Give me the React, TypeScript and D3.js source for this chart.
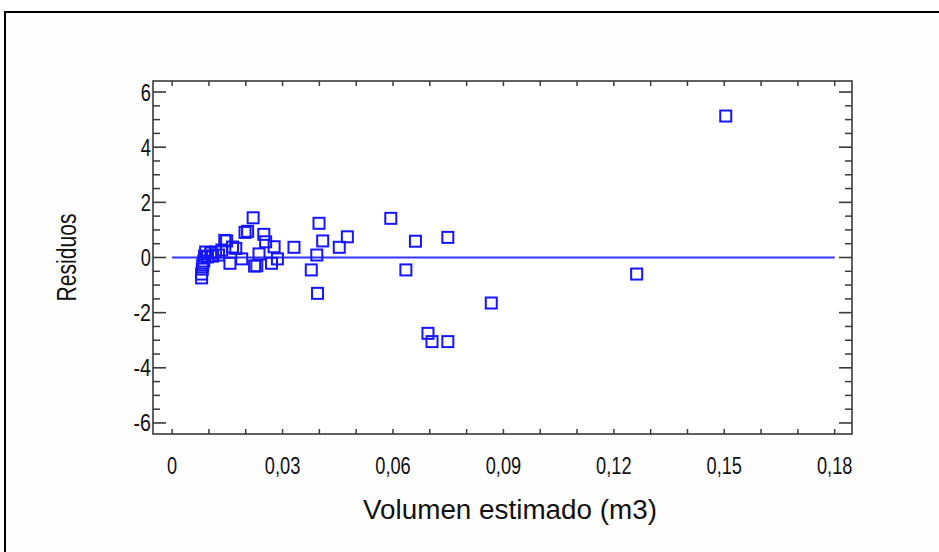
import React from "react";
import * as d3 from "d3";

// Estimated volume (m3) and residual for each observation
const volume = [
  0.0080, 0.0080, 0.0082, 0.0083, 0.0086, 0.0088, 0.0091, 0.0096, 0.0105, 0.0110,
  0.0118, 0.0126, 0.0135, 0.0143, 0.0148, 0.0157, 0.0164, 0.0173, 0.0189, 0.0198,
  0.0205, 0.0220, 0.0224, 0.0230, 0.0236, 0.0249, 0.0254, 0.0270, 0.0277, 0.0286,
  0.0331, 0.0378, 0.0393, 0.0395, 0.0399, 0.0409, 0.0454, 0.0476, 0.0594, 0.0635,
  0.0661, 0.0695, 0.0706, 0.0749, 0.0749, 0.0867, 0.1262, 0.1504,
];
const residual = [
  -0.74, -0.60, -0.42, -0.27, -0.13, 0.05, 0.20, 0.02, 0.16, 0.05,
  0.20, 0.09, 0.27, 0.62, 0.60, -0.21, 0.38, 0.33, -0.05, 0.91,
  0.95, 1.44, -0.31, -0.30, 0.13, 0.84, 0.57, -0.21, 0.39, -0.05,
  0.37, -0.45, 0.09, -1.30, 1.24, 0.60, 0.37, 0.75, 1.42, -0.45,
  0.59, -2.75, -3.05, -3.05, 0.73, -1.65, -0.60, 5.13,
];

const xTickValues = [0, 0.03, 0.06, 0.09, 0.12, 0.15, 0.18];
const xTickLabels = ["0", "0,03", "0,06", "0,09", "0,12", "0,15", "0,18"];
const yTickValues = [-6, -4, -2, 0, 2, 4, 6];
const yTickLabels = ["-6", "-4", "-2", "0", "2", "4", "6"];

const xTitle = "Volumen estimado (m3)";
const yTitle = "Residuos";

const W = 939;
const H = 552;
const plot = { left: 153, right: 852, top: 81, bottom: 434 };

// rough advance widths (em) for the condensed label face
const charW: Record<string, number> = {
  "0": 0.556, "1": 0.556, "2": 0.556, "3": 0.556, "4": 0.556, "5": 0.556,
  "6": 0.556, "7": 0.556, "8": 0.556, "9": 0.556, ",": 0.278, "-": 0.4,
};
const labelWidth = (s: string, size: number, squeeze: number) =>
  s.split("").reduce((a, c) => a + (charW[c] ?? 0.556), 0) * size * squeeze;

export default function App() {
  const x = d3.scaleLinear().domain([-0.0052, 0.1847]).range([plot.left, plot.right]);
  const y = d3.scaleLinear().domain([-6.4, 6.4]).range([plot.bottom, plot.top]);

  const xMinor = d3.range(0, 0.1801, 0.01);
  const yMinor = d3.range(-6, 6.01, 0.5).filter((v) => Math.abs(v % 2) > 0.01);

  const axisColor = "#3a3a3a";
  const blue = "#1515ff";
  const fs = 24;
  const squeeze = 0.76;
  const sq = 11;

  return (
    <svg
      width={W}
      height={H}
      style={{ position: "absolute", left: 0, top: 0, background: "#fff" }}
      fontFamily="'Liberation Sans', Arial, sans-serif"
    >
      {/* outer frame */}
      <rect x={5} y={12} width={W} height={H} fill="#fefefe" stroke="#000" strokeWidth={2} />

      {/* plot frame */}
      <rect
        x={plot.left}
        y={plot.top}
        width={plot.right - plot.left}
        height={plot.bottom - plot.top}
        fill="#fff"
        stroke={axisColor}
        strokeWidth={1.6}
      />

      {/* x ticks, top and bottom */}
      {xMinor.map((v, i) => (
        <g key={"xt" + i} stroke={axisColor} strokeWidth={1.5}>
          <line x1={x(v)} x2={x(v)} y1={plot.bottom} y2={plot.bottom - 5} />
          <line x1={x(v)} x2={x(v)} y1={plot.top} y2={plot.top + 5} />
        </g>
      ))}

      {/* y ticks, left and right */}
      {yTickValues.map((v, i) => (
        <g key={"ym" + i} stroke={axisColor} strokeWidth={1.6}>
          <line x1={plot.left} x2={plot.left + 13} y1={y(v)} y2={y(v)} />
          <line x1={plot.right} x2={plot.right - 13} y1={y(v)} y2={y(v)} />
        </g>
      ))}
      {yMinor.map((v, i) => (
        <g key={"yn" + i} stroke={axisColor} strokeWidth={1.5}>
          <line x1={plot.left} x2={plot.left + 7} y1={y(v)} y2={y(v)} />
          <line x1={plot.right} x2={plot.right - 7} y1={y(v)} y2={y(v)} />
        </g>
      ))}

      {/* tick labels */}
      {xTickValues.map((v, i) => (
        <text
          key={"xl" + i}
          x={x(v)}
          y={474}
          fontSize={fs}
          textAnchor="middle"
          fill="#111"
          textLength={labelWidth(xTickLabels[i], fs, squeeze)}
          lengthAdjust="spacingAndGlyphs"
        >
          {xTickLabels[i]}
        </text>
      ))}
      {yTickValues.map((v, i) => (
        <text
          key={"yl" + i}
          x={151}
          y={y(v) + 8.5}
          fontSize={fs}
          textAnchor="end"
          fill="#111"
          textLength={labelWidth(yTickLabels[i], fs, squeeze)}
          lengthAdjust="spacingAndGlyphs"
        >
          {yTickLabels[i]}
        </text>
      ))}

      {/* axis titles */}
      <text
        x={510}
        y={519}
        fontSize={27}
        textAnchor="middle"
        fill="#111"
        textLength={294}
        lengthAdjust="spacingAndGlyphs"
      >
        {xTitle}
      </text>
      <text
        transform={`translate(76,${(plot.top + plot.bottom) / 2}) rotate(-90)`}
        fontSize={27}
        textAnchor="middle"
        fill="#111"
        textLength={88}
        lengthAdjust="spacingAndGlyphs"
      >
        {yTitle}
      </text>

      {/* zero reference line */}
      <line x1={x(0)} x2={x(0.18)} y1={y(0)} y2={y(0)} stroke="#3333ff" strokeWidth={2} />

      {/* residual points */}
      {volume.map((v, i) => (
        <rect
          key={"p" + i}
          x={x(v) - sq / 2}
          y={y(residual[i]) - sq / 2}
          width={sq}
          height={sq}
          fill="none"
          stroke={blue}
          strokeWidth={2}
        />
      ))}
    </svg>
  );
}
